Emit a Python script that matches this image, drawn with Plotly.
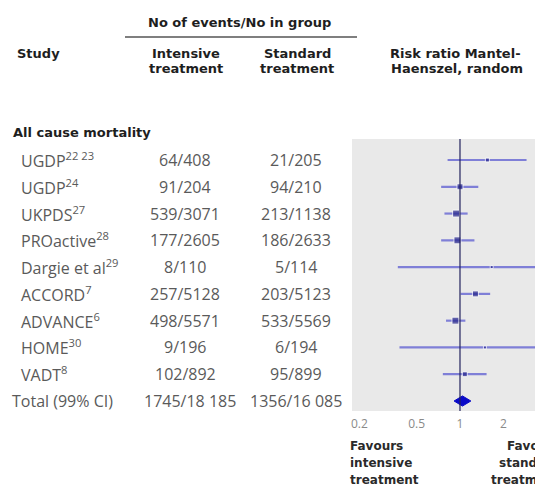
import plotly.graph_objects as go

# ---------------- data ----------------
studies = ["UGDP<sup>22 23</sup>", "UGDP<sup>24</sup>", "UKPDS<sup>27</sup>", "PROactive<sup>28</sup>",
           "Dargie et al<sup>29</sup>", "ACCORD<sup>7</sup>", "ADVANCE<sup>6</sup>", "HOME<sup>30</sup>",
           "VADT<sup>8</sup>"]
intensive = ["64/408", "91/204", "539/3071", "177/2605", "8/110", "257/5128", "498/5571", "9/196", "102/892"]
standard = ["21/205", "94/210", "213/1138", "186/2633", "5/114", "203/5123", "533/5569", "6/194", "95/899"]
rr = [1.55, 1.00, 0.94, 0.96, 1.66, 1.28, 0.93, 1.49, 1.08]
rr_low = [0.82, 0.74, 0.78, 0.74, 0.37, 1.01, 0.80, 0.38, 0.76]
rr_high = [2.90, 1.34, 1.13, 1.26, 6.90, 1.62, 1.09, 5.60, 1.53]
weights = [4, 6, 7, 7, 3, 6, 7, 3, 5]

total_label = "Total (99% CI)"
total_intensive = "1745/18 185"
total_standard = "1356/16 085"
total_rr, total_low, total_high = 1.04, 0.91, 1.19

tick_vals = [0.2, 0.5, 1, 2]
tick_text = ["0.2", "0.5", "1", "2"]

# ---------------- layout helpers ----------------
W, H = 535, 490
L, R, T, B = 352, 0, 139, 79
PW = W - L - R
PH = H - T - B

def px(x):
    return (x - L) / PW

def py(y):
    return (H - B - y) / PH

rows = list(range(len(studies)))
total_row = len(studies)

fig = go.Figure()

# CI lines
xs, ys = [], []
for i, (lo, hi) in enumerate(zip(rr_low, rr_high)):
    xs += [lo, hi, None]
    ys += [i, i, None]
fig.add_trace(go.Scatter(x=xs, y=ys, mode="lines",
                         line=dict(color="rgba(100,100,210,0.8)", width=2.2),
                         hoverinfo="skip", showlegend=False))
# point estimates
fig.add_trace(go.Scatter(x=rr, y=rows, mode="markers",
                         marker=dict(symbol="square", size=weights, color="#24248c"),
                         showlegend=False))
# total diamond
dh = 0.19
fig.add_trace(go.Scatter(x=[total_low, total_rr, total_high, total_rr, total_low],
                         y=[total_row, total_row - dh, total_row, total_row + dh, total_row],
                         mode="lines", fill="toself", fillcolor="#0a0ac8",
                         line=dict(color="#0a0ac8", width=1), showlegend=False))

fig.add_vline(x=1, line=dict(color="#23235e", width=1.2), layer="above")

row_h = 26.78
y_top = -(160 - T) / row_h
y_bot = total_row + (H - B - 401) / row_h

fig.update_layout(
    width=W, height=H,
    margin=dict(l=L, r=R, t=T, b=B, pad=0),
    paper_bgcolor="white", plot_bgcolor="#e9e9e9",
    xaxis=dict(type="log", range=[-0.75, 0.521], tickvals=tick_vals, ticktext=tick_text,
               showgrid=False, zeroline=False, showline=False,
               ticks="outside", ticklen=2, tickcolor="rgba(0,0,0,0)",
               tickfont=dict(family="Open Sans", size=12, color="#8a8a8a")),
    yaxis=dict(range=[y_bot, y_top], visible=False),
    font=dict(family="Open Sans"),
)

data_font = dict(family="Open Sans", size=16, color="#5a5a5a")
bold_font = dict(family="DejaVu Sans", size=13, color="#1e1e1e", weight="bold")
fav_font = dict(family="DejaVu Sans", size=12, color="#2a2a2a", weight="bold")

ann = []
def add(text, x, y, xanchor="left", font=data_font, yref="paper"):
    ann.append(dict(text=text, x=x, y=y, xref="paper", yref=yref, xanchor=xanchor,
                    yanchor="middle", showarrow=False, font=font))

# headers
add("<b>No of events/No in group</b>", px(239), py(22), "center", bold_font)
add("<b>Study</b>", px(15), py(53), "left", bold_font)
add("<b>Intensive</b>", px(186), py(53), "center", bold_font)
add("<b>treatment</b>", px(186), py(68), "center", bold_font)
add("<b>Standard</b>", px(297), py(53), "center", bold_font)
add("<b>treatment</b>", px(297), py(68), "center", bold_font)
add("<b>Risk ratio Mantel-</b>", px(388), py(53), "left", bold_font)
add("<b>Haenszel, random</b>", px(389), py(68), "left", bold_font)
add("<b>All cause mortality</b>", px(11), py(132), "left", bold_font)

for i, (s, a, b) in enumerate(zip(studies, intensive, standard)):
    add(s, px(19), i, "left", data_font, yref="y")
    add(a, px(185), i, "center", data_font, yref="y")
    add(b, px(296), i, "center", data_font, yref="y")
add(total_label, px(10), total_row, "left", data_font, yref="y")
add(total_intensive, px(190), total_row, "center", data_font, yref="y")
add(total_standard, px(296), total_row, "center", data_font, yref="y")

for txt, yy in zip(["Favours", "intensive", "treatment"], [446, 463, 480]):
    add("<b>%s</b>" % txt, px(348), py(yy), "left", fav_font)
for txt, yy in zip(["Favours", "standard", "treatment"], [446, 463, 480]):
    add("<b>%s</b>" % txt, px(562), py(yy), "right", fav_font)

fig.update_layout(annotations=ann)
fig.add_shape(type="line", xref="paper", yref="paper", x0=px(125), x1=px(357),
              y0=py(37), y1=py(37), line=dict(color="#555555", width=1.5))

fig.write_html("out.html", config={"displayModeBar": False},
               post_script="document.body.style.margin='0';document.body.style.overflow='hidden';")
